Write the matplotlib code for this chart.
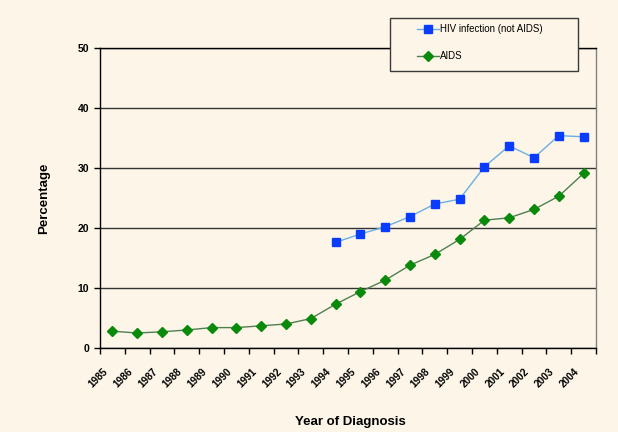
import matplotlib.pyplot as plt
from matplotlib.patches import Rectangle
from matplotlib import transforms

plt.rcParams['font.family'] = ['Liberation Sans', 'DejaVu Sans']

# ------------ DATA
years = [str(y) for y in range(1985, 2005)]
aids = [2.8, 2.5, 2.7, 3.0, 3.4, 3.4, 3.7, 4.0, 4.9, 7.3,
        9.4, 11.3, 13.8, 15.6, 18.1, 21.3, 21.7, 23.1, 25.3, 29.1]
hiv_years = years[9:]
hiv = [17.6, 19.0, 20.2, 21.9, 24.0, 24.8, 30.2, 33.7, 31.7, 35.4, 35.2]

bg = '#fdf6e8'

# ------------ PLOT
fig = plt.figure(figsize=(6.18, 4.32), dpi=100, facecolor=bg)
ax = fig.add_axes([100 / 618, 84 / 432, 496 / 618, 300 / 432], facecolor=bg)

x_all = list(range(len(years)))
x_hiv = [years.index(y) for y in hiv_years]

ax.plot(x_hiv, hiv, color='#6aaee6', linewidth=1, marker='s', markersize=5.5,
        markerfacecolor='#0a3cff', markeredgecolor='#0a3cff',
        label='HIV infection (not AIDS)', zorder=3)
ax.plot(x_all, aids, color='#4f7f4f', linewidth=1, marker='D', markersize=5.2,
        markerfacecolor='#0a8a0a', markeredgecolor='#0a8a0a',
        label='AIDS', zorder=3)

ax.set_xlim(-0.5, len(years) - 0.5)
ax.set_ylim(0, 50)
ax.set_yticks([0, 10, 20, 30, 40, 50])
ax.yaxis.grid(True, color='#333333', linewidth=1)
ax.set_axisbelow(True)

ax.set_xticks(x_all)
ax.set_xticklabels(years, rotation=45, ha='right', va='top',
                   fontsize=7.3, fontweight='bold', rotation_mode='anchor')
ax.set_xticks([i - 0.5 for i in range(len(years) + 1)], minor=True)
ax.tick_params(axis='x', which='major', length=0, pad=13)
ax.tick_params(axis='x', which='minor', length=4, width=1, color='black')
ax.tick_params(axis='y', length=4, width=1, labelsize=7.5, pad=4)
for lab in ax.get_yticklabels():
    lab.set_fontweight('bold')

offset = transforms.ScaledTranslation(-7 / 72, 0, fig.dpi_scale_trans)
for lab in ax.get_xticklabels():
    lab.set_transform(lab.get_transform() + offset)

for side in ['left', 'bottom', 'top']:
    ax.spines[side].set_color('black')
    ax.spines[side].set_linewidth(1)
ax.spines['right'].set_color('#808080')
ax.spines['right'].set_linewidth(1)

ax.set_ylabel('Percentage', fontsize=9.5, fontweight='bold')
ax.set_xlabel('Year of Diagnosis', fontsize=9.5, fontweight='bold')
ax.xaxis.set_label_coords(0.505, -0.225)
ax.yaxis.set_label_coords(-0.101, 0.5)

# legend box
fig.patches.append(Rectangle((390 / 618, 1 - 71 / 432), 188 / 618, 53 / 432,
                             transform=fig.transFigure, facecolor=bg,
                             edgecolor='#3a3a3a', linewidth=1, zorder=5))
leg = fig.legend(loc='upper left', bbox_to_anchor=(417 / 618, 1 - 24 / 432),
                 frameon=False, fontsize=7, handlelength=2.3, handletextpad=0.1,
                 labelspacing=1.75, borderpad=0, borderaxespad=0)
leg.set_zorder(6)

plt.savefig('out.png', dpi=100, facecolor=bg)
